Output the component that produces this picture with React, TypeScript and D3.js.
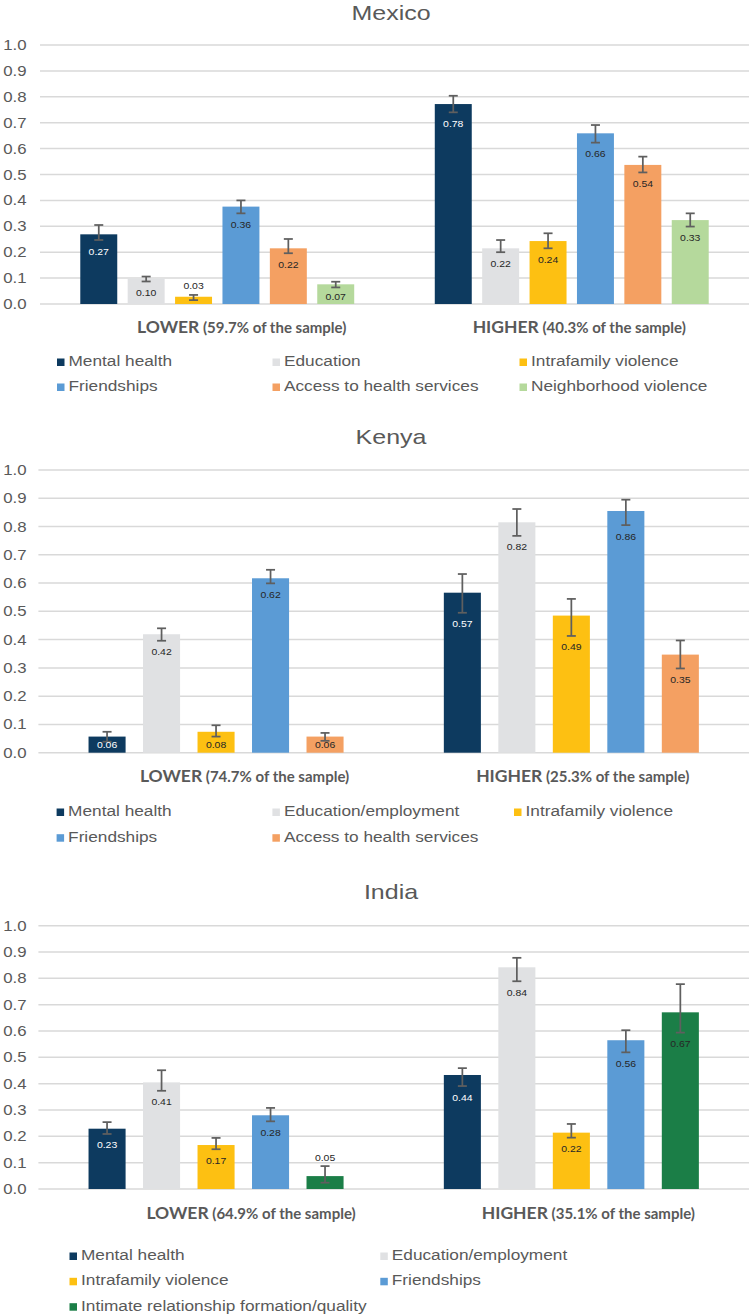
import React from "react";
import * as d3 from "d3";

// ---------- DATA ----------
const groups = ["LOWER", "HIGHER"];

const mexicoSeries = ["Mental health", "Education", "Intrafamily violence", "Friendships", "Access to health services", "Neighborhood violence"];
const mexicoShares = ["59.7%", "40.3%"];
const mexicoLower = [0.269, 0.099, 0.028, 0.376, 0.215, 0.076];
const mexicoLowerErrLo = [0.247, 0.087, 0.015, 0.35, 0.196, 0.064];
const mexicoLowerErrHi = [0.305, 0.106, 0.035, 0.4, 0.251, 0.086];
const mexicoLowerLabels = ["0.27", "0.10", "0.03", "0.36", "0.22", "0.07"];
const mexicoHigher = [0.772, 0.215, 0.243, 0.659, 0.537, 0.324];
const mexicoHigherErrLo = [0.74, 0.2, 0.215, 0.623, 0.508, 0.299];
const mexicoHigherErrHi = [0.804, 0.247, 0.273, 0.691, 0.569, 0.35];
const mexicoHigherLabels = ["0.78", "0.22", "0.24", "0.66", "0.54", "0.33"];

const kenyaSeries = ["Mental health", "Education/employment", "Intrafamily violence", "Friendships", "Access to health services"];
const kenyaShares = ["74.7%", "25.3%"];
const kenyaLower = [0.057, 0.419, 0.074, 0.617, 0.057];
const kenyaLowerErrLo = [0.039, 0.396, 0.057, 0.599, 0.042];
const kenyaLowerErrHi = [0.074, 0.44, 0.097, 0.647, 0.07];
const kenyaLowerLabels = ["0.06", "0.42", "0.08", "0.62", "0.06"];
const kenyaHigher = [0.566, 0.815, 0.485, 0.855, 0.347];
const kenyaHigherErrLo = [0.495, 0.767, 0.413, 0.805, 0.298];
const kenyaHigherErrHi = [0.632, 0.862, 0.544, 0.895, 0.397];
const kenyaHigherLabels = ["0.57", "0.82", "0.49", "0.86", "0.35"];

const indiaSeries = ["Mental health", "Education/employment", "Intrafamily violence", "Friendships", "Intimate relationship formation/quality"];
const indiaShares = ["64.9%", "35.1%"];
const indiaLower = [0.229, 0.405, 0.167, 0.28, 0.049];
const indiaLowerErrLo = [0.209, 0.373, 0.151, 0.257, 0.024];
const indiaLowerErrHi = [0.254, 0.451, 0.194, 0.308, 0.087];
const indiaLowerLabels = ["0.23", "0.41", "0.17", "0.28", "0.05"];
const indiaHigher = [0.433, 0.842, 0.214, 0.565, 0.671];
const indiaHigherErrLo = [0.391, 0.789, 0.195, 0.519, 0.594];
const indiaHigherErrHi = [0.459, 0.878, 0.247, 0.603, 0.778];
const indiaHigherLabels = ["0.44", "0.84", "0.22", "0.56", "0.67"];

const seriesColors: Record<string, string> = {
  "Mental health": "#0d3a5f",
  "Education": "#e0e1e3",
  "Education/employment": "#e0e1e3",
  "Intrafamily violence": "#fdc012",
  "Friendships": "#5b9bd5",
  "Access to health services": "#f4a062",
  "Neighborhood violence": "#b5d99c",
  "Intimate relationship formation/quality": "#1b7e47",
};

// ---------- LAYOUT ----------
const W = 751;
const H = 1316;
const TEXT = "#595959";
const SANS = "'Liberation Sans', Arial, sans-serif";

type Panel = {
  title: string;
  series: string[];
  shares: string[];
  values: number[][];
  errLo: number[][];
  errHi: number[][];
  labels: string[][];
  top: number;
  bottom: number;
  left: number;
  right: number;
  titleY: number;
  catY: number;
  catShift: number[];
  padInner: number;
  padOuter: number;
  legendCols: number[];
  legendRows: number[];
};

const panels: Panel[] = [
  {
    title: "Mexico",
    series: mexicoSeries,
    shares: mexicoShares,
    values: [mexicoLower, mexicoHigher],
    errLo: [mexicoLowerErrLo, mexicoHigherErrLo],
    errHi: [mexicoLowerErrHi, mexicoHigherErrHi],
    labels: [mexicoLowerLabels, mexicoHigherLabels],
    top: 45, bottom: 304, left: 40, right: 749,
    titleY: 19.5, catY: 332.7, catShift: [24.5, 7.5],
    padInner: 0.22, padOuter: 0.85,
    legendCols: [57, 272.5, 519.5], legendRows: [366, 391],
  },
  {
    title: "Kenya",
    series: kenyaSeries,
    shares: kenyaShares,
    values: [kenyaLower, kenyaHigher],
    errLo: [kenyaLowerErrLo, kenyaHigherErrLo],
    errHi: [kenyaLowerErrHi, kenyaHigherErrHi],
    labels: [kenyaLowerLabels, kenyaHigherLabels],
    top: 470, bottom: 752.7, left: 38.4, right: 749,
    titleY: 443.5, catY: 781.7, catShift: [28.5, 11.4],
    padInner: 0.32, padOuter: 0.92,
    legendCols: [56.6, 272.4, 514], legendRows: [816, 841.7],
  },
  {
    title: "India",
    series: indiaSeries,
    shares: indiaShares,
    values: [indiaLower, indiaHigher],
    errLo: [indiaLowerErrLo, indiaHigherErrLo],
    errHi: [indiaLowerErrHi, indiaHigherErrHi],
    labels: [indiaLowerLabels, indiaHigherLabels],
    top: 925.7, bottom: 1189, left: 38.4, right: 749,
    titleY: 899.3, catY: 1219, catShift: [35, 17],
    padInner: 0.32, padOuter: 0.92,
    legendCols: [69.5, 380.3], legendRows: [1260, 1285.3, 1310.7],
  },
];

function SText(props: {
  x: number; y: number; sx?: number; anchor?: string; size: number;
  fill?: string; weight?: string | number; family?: string; children: React.ReactNode;
}) {
  const { x, y, sx = 1, anchor = "start", size, fill = TEXT, weight = "normal", family = SANS, children } = props;
  return (
    <text
      transform={`translate(${x},${y}) scale(${sx},1)`}
      textAnchor={anchor as any}
      fontSize={size}
      fill={fill}
      fontWeight={weight as any}
      fontFamily={family}
    >
      {children}
    </text>
  );
}

function ChartPanel({ p }: { p: Panel }) {
  const y = d3.scaleLinear().domain([0, 1]).range([p.bottom, p.top]);
  const x0 = d3.scaleBand<string>().domain(groups).range([p.left, p.right]).padding(0);
  const x1 = d3
    .scaleBand<string>()
    .domain(p.series)
    .range([0, x0.bandwidth()])
    .paddingInner(p.padInner)
    .paddingOuter(p.padOuter);
  const ticks = d3.range(0, 11).map((i) => i / 10);
  const fmt = d3.format(".1f");
  const bw = x1.bandwidth();
  const ncol = p.legendCols.length;
  const titleX = 391;

  return (
    <g>
      <SText x={titleX} y={p.titleY} sx={1.19} anchor="middle" size={21}>
        {p.title}
      </SText>
      {ticks.map((t) => (
        <g key={t}>
          <line x1={p.left} x2={p.right} y1={y(t)} y2={y(t)} stroke="#d9d9d9" strokeWidth={1.5} />
          <SText x={26.5} y={y(t) + 5} sx={1.2} anchor="end" size={14}>
            {fmt(t)}
          </SText>
        </g>
      ))}
      {groups.map((g, gi) => (
        <g key={g}>
          {p.series.map((s, si) => {
            const v = p.values[gi][si];
            const lo = p.errLo[gi][si];
            const hi = p.errHi[gi][si];
            const bx = (x0(g) as number) + (x1(s) as number);
            const cx = bx + bw / 2;
            const top = y(v);
            const h = y(0) - top;
            const dark = s === "Mental health";
            let ly: number;
            let lfill: string;
            if (h < 15) {
              ly = y(hi) - 9;
              lfill = "#262626";
            } else {
              ly = Math.min(y(lo) + 11, y(0) - 8);
              lfill = dark ? "#ffffff" : "#262626";
            }
            return (
              <g key={s}>
                <rect x={bx} y={top} width={bw} height={h} fill={seriesColors[s]} />
                <line x1={cx} x2={cx} y1={y(lo)} y2={y(hi)} stroke="#5f5f5f" strokeWidth={1.75} />
                <line x1={cx - 4.5} x2={cx + 4.5} y1={y(lo)} y2={y(lo)} stroke="#5f5f5f" strokeWidth={1.75} />
                <line x1={cx - 4.5} x2={cx + 4.5} y1={y(hi)} y2={y(hi)} stroke="#5f5f5f" strokeWidth={1.75} />
                <SText x={cx} y={ly + 3.5} sx={1.1} anchor="middle" size={9.5} fill={lfill}>
                  {p.labels[gi][si]}
                </SText>
              </g>
            );
          })}
          <text
            x={(x0(g) as number) + x0.bandwidth() / 2 + p.catShift[gi]}
            y={p.catY}
            textAnchor="middle"
            fill={TEXT}
            fontFamily="Lato, 'Open Sans', sans-serif"
            fontWeight="bold"
          >
            <tspan fontSize={17.5}>{g}</tspan>
            <tspan fontSize={15}>{` (${p.shares[gi]} of the sample)`}</tspan>
          </text>
        </g>
      ))}
      {p.series.map((s, i) => {
        const col = i % ncol;
        const row = Math.floor(i / ncol);
        const lx = p.legendCols[col];
        const lyb = p.legendRows[row];
        return (
          <g key={s}>
            <rect x={lx} y={lyb - 7.5} width={7.5} height={7.5} fill={seriesColors[s]} />
            <SText x={lx + 11.5} y={lyb} sx={1.15} size={15}>
              {s}
            </SText>
          </g>
        );
      })}
    </g>
  );
}

export default function App() {
  return (
    <svg
      width={W}
      height={H}
      viewBox={`0 0 ${W} ${H}`}
      style={{ position: "absolute", left: 0, top: 0, background: "#ffffff" }}
    >
      <rect x={0} y={0} width={W} height={H} fill="#ffffff" />
      {panels.map((p) => (
        <ChartPanel key={p.title} p={p} />
      ))}
    </svg>
  );
}
